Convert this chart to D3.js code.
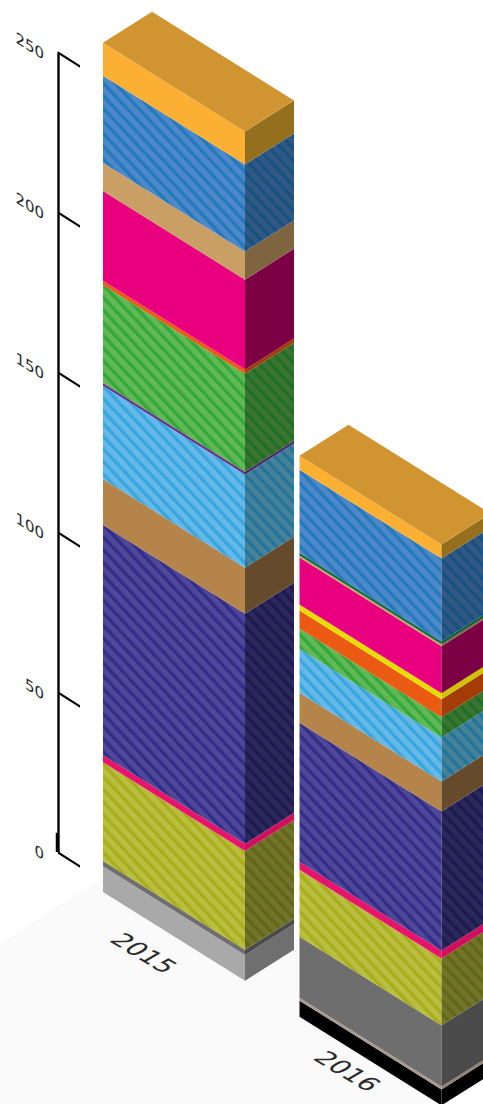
<!DOCTYPE html>
<html>
<head>
<meta charset="utf-8">
<script src="https://cdn.jsdelivr.net/npm/d3@7"></script>
<style>
  html, body { margin: 0; padding: 0; background: #fff; overflow: hidden; }
  svg { display: block; }
  text { font-family: "DejaVu Sans", sans-serif; fill: #2a2a2a; }
</style>
</head>
<body>
<svg id="chart" width="483" height="1104"></svg>
<script>
// Stacked isometric columns, bottom layer first.
const years = ["2015", "2016"];
const seriesKeys = ["black", "taupe", "lightGrey", "grey", "olive", "crimson", "navy", "brown",
  "skyBlue", "purple", "green", "vermilion", "yellow", "magenta", "tan", "darkGreen", "blue", "gold"];
const values2015 = [0, 0, 8.1, 1.6, 30.9, 2.2, 71.9, 14.4, 29.1, 0.9, 30.6, 1.3, 0, 28.1, 8.8, 0, 27.2, 10.3];
const values2016 = [5, 0.9, 0, 19.1, 20.9, 2.5, 43.4, 9.4, 13.8, 0, 6.3, 5.6, 1.9, 14.7, 0.6, 0.9, 25.9, 4.4];
const axisTicks = [0, 50, 100, 150, 200, 250];
const stackBase = -3.6;

// Face colours per series: [front, front stripe, side, side stripe]; no stripe means a flat fill.
const faceColors = {
  black:     ["#000000", null, "#000000", null],
  taupe:     ["#a89a8e", null, "#8f8378", null],
  lightGrey: ["#a9a9a9", null, "#6f6f6f", null],
  grey:      ["#6e6e6e", null, "#4b4b4b", null],
  olive:     ["#b9bd40", "#a8ad1c", "#71742a", "#626616"],
  crimson:   ["#e8146c", null, "#d0105c", null],
  navy:      ["#4f4899", "#322d88", "#2d285b", "#1d1951"],
  brown:     ["#b5844b", null, "#654a2b", null],
  skyBlue:   ["#66b8e9", "#36a7de", "#458299", "#23739a"],
  purple:    ["#6a2c91", null, "#4d2169", null],
  green:     ["#62b855", "#31a83b", "#3b7431", "#1f6e27"],
  vermilion: ["#ea5a12", null, "#a33c07", null],
  yellow:    ["#e6dc00", null, "#cfc400", null],
  magenta:   ["#e9007f", null, "#7c0044", null],
  tan:       ["#c99f66", null, "#7e6540", null],
  darkGreen: ["#0b6b3c", null, "#0a5a32", null],
  blue:      ["#4f88c8", "#2179be", "#305882", "#175182"],
  gold:      ["#fbb034", null, "#946f1e", null]
};
const topColor = "#d09530";

// Isometric geometry of the drawing plane.
const slope = 0.634;
const barSlope = 0.625;
const axisX = 58;
const barWidth = 142;
const depthX = 49;
const depthY = 31;
const stripePeriod = 8.6;
const stripeWidth = 3.3;

const svg = d3.select("#chart");
const defs = svg.append("defs");

const y = d3.scaleLinear().domain([0, 250]).range([852, 52]);
const x = d3.scalePoint().domain(years).range([103, 299.5]);
const labelX = d3.scalePoint().domain(years).range([144, 347.5]);
const labelY = d3.scalePoint().domain(years).range([953, 1071]);

// Screen position of a value on a column's left edge and on its front corner.
const leftEdge = (px, value) => [px, y(value) + (px - axisX) * slope];
const frontCorner = (px, value) => [px + barWidth, leftEdge(px, value)[1] + barWidth * barSlope];

function stripePattern(id, base, stripe) {
  const p = defs.append("pattern")
    .attr("id", id)
    .attr("patternUnits", "userSpaceOnUse")
    .attr("width", stripePeriod)
    .attr("height", stripePeriod)
    .attr("patternTransform", "rotate(-43)");
  p.append("rect").attr("width", stripePeriod).attr("height", stripePeriod).attr("fill", base);
  p.append("rect").attr("width", stripeWidth).attr("height", stripePeriod).attr("fill", stripe);
}

function faceFill(key, side) {
  const c = faceColors[key];
  const base = side ? c[2] : c[0];
  const stripe = side ? c[3] : c[1];
  if (!stripe) return base;
  const id = `stripe-${key}-${side ? "side" : "front"}`;
  if (defs.select(`#${id}`).empty()) stripePattern(id, base, stripe);
  return `url(#${id})`;
}

// Pale ground plane under the columns.
const ground = [[0, 943], [152, 846], [350, 972], [441, 1104], [0, 1104]];
svg.append("path").attr("d", d3.line()(ground) + "Z").attr("fill", "#fafafa");

// Value axis lives in a sheared group so ticks and labels follow the plane.
const axisGroup = svg.append("g")
  .attr("transform", `matrix(1,${slope},0,1,${axisX},0)`)
  .call(d3.axisLeft(y).tickValues(axisTicks).tickSizeInner(-22).tickSizeOuter(0).tickPadding(14));
axisGroup.select(".domain").attr("stroke", "#000").attr("stroke-width", 2.4);
axisGroup.selectAll(".tick line").attr("stroke", "#000").attr("stroke-width", 2.4);
axisGroup.selectAll(".tick text")
  .attr("y", 12)
  .attr("font-size", 15)
  .attr("font-family", '"DejaVu Sans", sans-serif')
  .attr("fill", "#2a2a2a");

// Heavier foot at the bottom of the axis line.
svg.append("line")
  .attr("x1", axisX - 1).attr("x2", axisX - 1)
  .attr("y1", y(6)).attr("y2", y(0))
  .attr("stroke", "#000").attr("stroke-width", 2.5);

const rows = years.map((year, i) => {
  const src = i === 0 ? values2015 : values2016;
  const row = { year };
  seriesKeys.forEach((k, j) => { row[k] = src[j]; });
  return row;
});
const stacked = d3.stack().keys(seriesKeys)(rows);

const polyline = d3.line();
years.forEach((year, i) => {
  const g = svg.append("g").attr("class", `column-${year}`);
  const left = x(year);

  stacked.forEach(layer => {
    const [v0, v1] = layer[i];
    if (v1 === v0) return;
    const lo = stackBase + v0;
    const hi = stackBase + v1;
    const a = leftEdge(left, hi);
    const b = frontCorner(left, hi);
    const c = frontCorner(left, lo);
    const d = leftEdge(left, lo);
    g.append("path")
      .attr("d", polyline([a, b, c, d]) + "Z")
      .attr("fill", faceFill(layer.key, false));
    g.append("path")
      .attr("d", polyline([b, [b[0] + depthX, b[1] - depthY], [c[0] + depthX, c[1] - depthY], c]) + "Z")
      .attr("fill", faceFill(layer.key, true));
  });

  // Lid of the column.
  const total = stackBase + d3.max(stacked, l => l[i][1]);
  const tl = leftEdge(left, total);
  const tc = frontCorner(left, total);
  g.append("path")
    .attr("d", polyline([tl, tc, [tc[0] + depthX, tc[1] - depthY], [tl[0] + depthX, tl[1] - depthY]]) + "Z")
    .attr("fill", topColor);

  // Year label lies flat on the ground plane.
  svg.append("text")
    .attr("transform", `matrix(1,${slope - 0.03},-0.98,0.58,${labelX(year)},${labelY(year)})`)
    .attr("text-anchor", "middle")
    .attr("dy", "0.36em")
    .attr("font-size", 22)
    .text(year);
});
</script>
</body>
</html>
